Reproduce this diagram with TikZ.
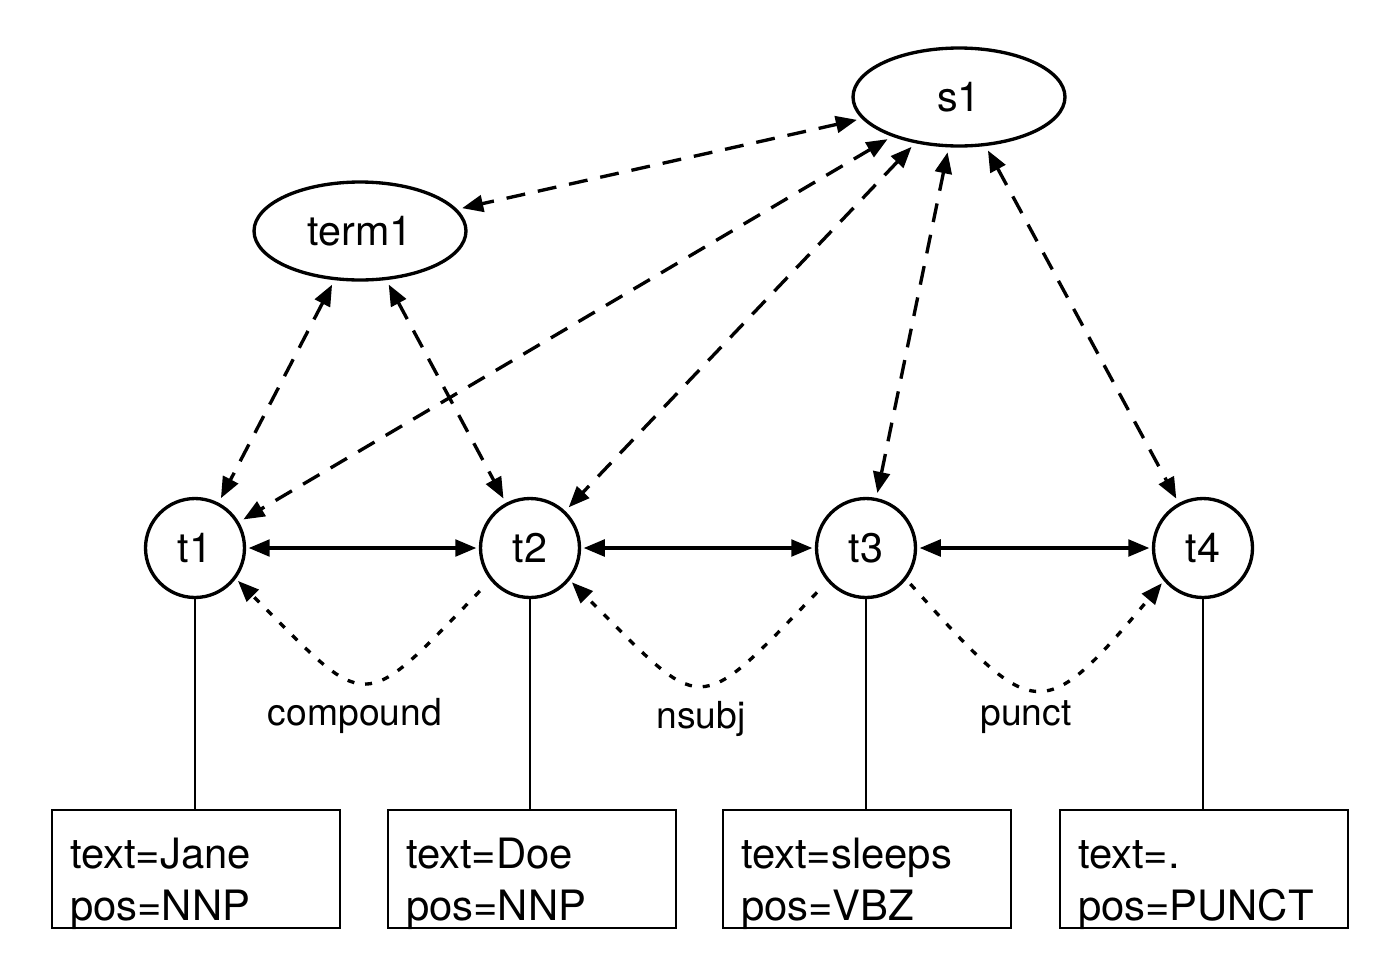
\documentclass[tikz,border=0pt]{standalone}
\usepackage{fontspec}
\setmainfont{TeX Gyre Heros}
\usetikzlibrary{arrows.meta,shapes.geometric}

\begin{document}
\begin{tikzpicture}[x=0.02cm,y=-0.02cm,>={Triangle[length=12pt,width=9.5pt]}]
        \useasboundingbox (0,0) rectangle (1391,974);
        \tikzstyle{every node}+=[font=\fontsize{23.5}{28}\selectfont]
        \tikzstyle{ent}=[ellipse, draw=black, line width=1.9pt, minimum width=4.24cm, minimum height=1.96cm]
        \tikzstyle{tok}=[circle, draw=black, line width=1.9pt, minimum size=1.98cm, inner sep=0pt]
        \tikzstyle{attr}=[draw=black, line width=0.85pt, minimum height=2.36cm, text width=5.04cm, inner xsep=0.36cm, inner ysep=0pt, align=left, text height=0.88cm, text depth=0.92cm, font=\fontsize{23.8}{29.8}\selectfont]
        \tikzstyle{refarc}=[<->, black, line width=1.9pt, dash pattern=on 10.8pt off 7.4pt, shorten >=0.1cm, shorten <=0.1cm]
        \tikzstyle{nextarc}=[<->, black, line width=1.9pt, shorten >=0.05cm, shorten <=0.05cm]
        \tikzstyle{deparc}=[->, black, line width=1.9pt, dash pattern=on 4pt off 6.2pt, shorten >=0.06cm]
        \tikzstyle{deplabel}=[font=\fontsize{21.2}{25}\selectfont]
        % annotations
        \node [ent] (s1) at (959,97) {s1};
        \node [ent] (term1) at (360,231) {term1};
        % tokens
        \node [tok] (t1) at (195,548) {t1};
        \node [tok] (t2) at (530,548) {t2};
        \node [tok] (t3) at (866,548) {t3};
        \node [tok] (t4) at (1203,548) {t4};
        % features
        \node [attr] (f1) at (196,869) {text=Jane\\pos=NNP};
        \node [attr] (f2) at (532,869) {text=Doe\\pos=NNP};
        \node [attr] (f3) at (867,869) {text=sleeps\\pos=VBZ};
        \node [attr] (f4) at (1204,869) {text=.\\pos=PUNCT};
        \foreach \i in {1,...,4}
          \draw [black, line width=0.85pt] (t\i.south) -- (t\i.south |- f\i.north);
        % sentence and term links
        \draw [refarc] (s1) -- (term1);
        \draw [refarc] (s1) -- (t1);
        \draw [refarc] (s1) -- (t2);
        \draw [refarc] (s1) -- (t3);
        \draw [refarc] (s1) -- (t4);
        \draw [refarc] (term1) -- (t1);
        \draw [refarc] (term1) -- (t2);
        % token order
        \draw [nextarc] (t1) -- (t2);
        \draw [nextarc] (t2) -- (t3);
        \draw [nextarc] (t3) -- (t4);
        % dependencies
        \draw [deparc, shorten <=0.3cm] (t2.219) to[out=226, in=315, looseness=1.9] (t1.-37);
        \node [deplabel] (compound) at (355,716) {compound};
        \draw [deparc, shorten <=0.3cm] (t3.221) to[out=226, in=315, looseness=1.9] (t2.-39);
        \node [deplabel] (nsubj) at (701,719) {nsubj};
        \draw [deparc, shorten <=0.12cm] (t3.-38) to[out=-48, in=230, looseness=1.9] (t4.220);
        \node [deplabel] (punct) at (1026,717) {punct};
\end{tikzpicture}
\end{document}
